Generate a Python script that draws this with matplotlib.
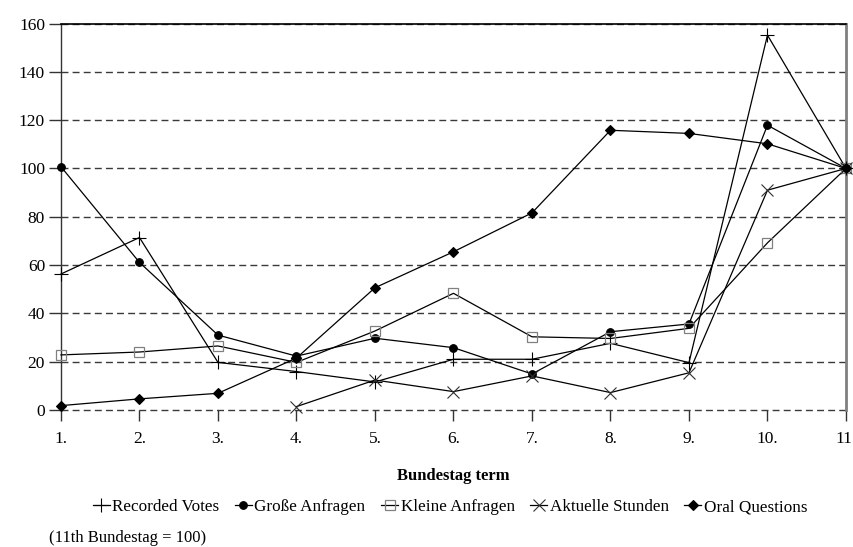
import numpy as np
import matplotlib
matplotlib.use("Agg")
import matplotlib.pyplot as plt

plt.rcParams["font.family"] = ["Liberation Serif", "DejaVu Serif"]

# Data (11th Bundestag = 100)
terms = ["1.", "2.", "3.", "4.", "5.", "6.", "7.", "8.", "9.", "10.", "11."]
recorded_votes = [56.3, 71.4, 19.7, 15.9, 11.6, 21.0, 21.0, 27.6, 19.6, 155.2, 100]
grosse_anfragen = [100.7, 61.1, 31.0, 22.3, 29.7, 25.8, 14.9, 32.4, 35.6, 117.9, 100]
kleine_anfragen = [22.8, 24.0, 26.5, 19.7, 32.7, 48.3, 30.3, 29.6, 33.8, 69.2, 100]
aktuelle_stunden = [np.nan, np.nan, np.nan, 1.4, 12.4, 7.6, 14.1, 7.2, 15.4, 91.0, 100]
oral_questions = [1.8, 4.6, 6.9, 21.5, 50.6, 65.5, 81.6, 115.8, 114.5, 110.2, 100]

x = np.arange(1, len(terms) + 1)

fig = plt.figure(figsize=(8.54, 5.47), dpi=100)
ax = fig.add_axes([0.0714, 0.2505, 0.9192, 0.7065])

# grid
for yv in range(0, 161, 20):
    ax.axhline(yv, color="#3a3a3a", lw=1.0, ls=(0, (5, 3)), zorder=1, clip_on=False)

lw = 0.9
ax.plot(x, recorded_votes, color="black", lw=lw, marker="+", ms=10, mew=0.8,
        label="Recorded Votes", zorder=3, clip_on=False)
ax.plot(x, grosse_anfragen, color="black", lw=lw, marker="o", ms=5.5, mew=0.8,
        label="Große Anfragen", zorder=3, clip_on=False)
ax.plot(x, kleine_anfragen, color="black", lw=lw, marker="s", ms=7.5, mew=0.9,
        mfc="none", mec="#808080", label="Kleine Anfragen", zorder=3, clip_on=False)
ax.plot(x, aktuelle_stunden, color="black", lw=lw, marker="x", ms=8, mew=0.8,
        mec="#303030", label="Aktuelle Stunden", zorder=3, clip_on=False)
ax.plot(x, oral_questions, color="black", lw=lw, marker="D", ms=5.5, mew=0.8,
        label="Oral Questions", zorder=3, clip_on=False)

ax.set_xlim(1, 11)
ax.set_ylim(0, 160)
ax.set_yticks(range(0, 161, 20))
ax.set_xticks(x)
ax.set_xticklabels(terms)

ax.spines["bottom"].set_visible(False)
ax.spines["top"].set_color("black")
ax.spines["top"].set_linewidth(1.2)
ax.spines["left"].set_color("#333333")
ax.spines["left"].set_linewidth(1.0)
ax.spines["right"].set_color("#808080")
ax.spines["right"].set_linewidth(2.0)

ax.tick_params(axis="y", direction="out", length=8.5, width=1.0, color="#333333",
               labelsize=12.5, pad=3)
ax.tick_params(axis="x", direction="out", length=8, width=1.0, color="#333333",
               labelsize=12.5, pad=7)

ax.set_xlabel("Bundestag term", fontsize=12, fontweight="bold")
ax.xaxis.set_label_coords(0.5, -0.171)
ax.xaxis.label.set_va("center")

fig.legend(loc="center", bbox_to_anchor=(0.527, 0.073), ncol=5, frameon=False,
           fontsize=12.3, handlelength=1.0, handletextpad=0.15, columnspacing=0.9,
           borderaxespad=0, borderpad=0)

fig.text(49 / 854, 1 - 538 / 547, "(11th Bundestag = 100)", fontsize=12,
         ha="left", va="center")

fig.savefig("out.png", dpi=100)
